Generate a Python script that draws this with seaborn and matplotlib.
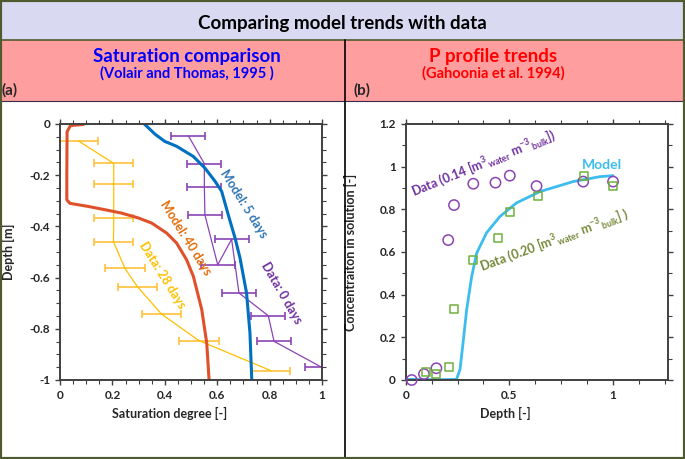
import matplotlib
matplotlib.use("Agg")
import matplotlib.pyplot as plt
import seaborn as sns
from matplotlib.patches import Rectangle
from matplotlib.lines import Line2D
from matplotlib.ticker import MultipleLocator

# -----------------------------
# Data
# -----------------------------
# (a) saturation vs depth
sat_5d = [0.322, 0.363, 0.40, 0.445, 0.509, 0.553, 0.592, 0.617, 0.642, 0.668, 0.687, 0.712, 0.725, 0.732]
dep_5d = [0.0, -0.04, -0.068, -0.087, -0.127, -0.172, -0.224, -0.263, -0.354, -0.445, -0.523, -0.66, -0.816, -1.0]

sat_40d = [0.089, 0.04, 0.027, 0.026, 0.026, 0.038, 0.108, 0.172, 0.235, 0.299, 0.35, 0.407, 0.445, 0.483, 0.509, 0.541, 0.56, 0.569]
dep_40d = [-0.002, -0.006, -0.03, -0.2, -0.296, -0.31, -0.322, -0.335, -0.348, -0.367, -0.387, -0.426, -0.465, -0.53, -0.595, -0.725, -0.855, -1.0]

sat_28d = [0.07, 0.205, 0.205, 0.205, 0.204, 0.248, 0.295, 0.388, 0.53, 0.804]
dep_28d = [-0.066, -0.154, -0.234, -0.366, -0.46, -0.564, -0.635, -0.743, -0.846, -0.963]
err_28d = 0.075

sat_0d = [0.49, 0.551, 0.551, 0.553, 0.602, 0.655, 0.683, 0.795, 0.817, 1.0]
dep_0d = [-0.046, -0.155, -0.246, -0.355, -0.55, -0.45, -0.66, -0.749, -0.849, -0.951]
err_0d = 0.065

# (b) P profile
pos_model = [0.0, 0.1, 0.2, 0.245, 0.262, 0.275, 0.294, 0.318, 0.342, 0.39, 0.454, 0.534, 0.647, 0.807, 0.936, 1.0]
conc_model = [0.003, 0.002, 0.002, 0.003, 0.05, 0.16, 0.33, 0.484, 0.594, 0.69, 0.766, 0.83, 0.883, 0.93, 0.953, 0.958]

pos_014 = [0.029, 0.088, 0.148, 0.205, 0.233, 0.326, 0.433, 0.502, 0.631, 0.856, 1.0]
conc_014 = [0.0, 0.028, 0.055, 0.656, 0.82, 0.92, 0.925, 0.958, 0.909, 0.93, 0.93]

pos_020 = [0.096, 0.148, 0.21, 0.234, 0.326, 0.446, 0.502, 0.639, 0.859, 1.0]
conc_020 = [0.039, 0.028, 0.062, 0.334, 0.5625, 0.664, 0.786, 0.864, 0.958, 0.909]

x1_ticks = [0, 0.2, 0.4, 0.6, 0.8, 1.0]
x1_labels = ["0", "0.2", "0.4", "0.6", "0.8", "1"]
y1_ticks = [0, -0.2, -0.4, -0.6, -0.8, -1.0]
y1_labels = ["0", "-0.2", "-0.4", "-0.6", "-0.8", "-1"]
x2_ticks = [0, 0.5, 1.0]
x2_labels = ["0", "0.5", "1"]
y2_ticks = [0, 0.2, 0.4, 0.6, 0.8, 1.0, 1.2]
y2_labels = ["0", "0.2", "0.4", "0.6", "0.8", "1", "1.2"]

# -----------------------------
# Style
# -----------------------------
sns.set_style("white")
plt.rcParams["font.family"] = ["Lato", "DejaVu Sans"]
plt.rcParams["font.weight"] = "bold"
plt.rcParams["axes.unicode_minus"] = False
plt.rcParams["mathtext.fontset"] = "custom"
plt.rcParams["mathtext.rm"] = "Lato:bold"
plt.rcParams["mathtext.bf"] = "Lato:bold"
plt.rcParams["mathtext.it"] = "Lato:bold"

W, H = 685, 459
fig = plt.figure(figsize=(6.85, 4.59), dpi=100)

# header bands
fig.patches.append(Rectangle((0, 1 - 40 / H), 1, 40 / H, transform=fig.transFigure,
                             facecolor="#d9daf2", edgecolor="none", zorder=0))
fig.patches.append(Rectangle((0, 1 - 101 / H), 1, 61 / H, transform=fig.transFigure,
                             facecolor="#ff9e9e", edgecolor="none", zorder=0))
fig.add_artist(Line2D([0, 1], [1 - 40 / H] * 2, color="#4f5b2e", lw=1.2))
fig.add_artist(Line2D([0, 1], [1 - 101 / H] * 2, color="#3a2a4a", lw=0.8))
fig.add_artist(Line2D([345 / W] * 2, [0, 1 - 40 / H], color="black", lw=1.2))
fig.patches.append(Rectangle((0, 0), 1, 1, transform=fig.transFigure, fill=False,
                             edgecolor="#4f5b2e", lw=3, zorder=5))

fig.text(0.5, 1 - 23 / H, "Comparing model trends with data", ha="center", va="center",
         fontsize=13.5, fontweight="bold", color="black")
fig.text(186.7 / W, 1 - 56.7 / H, "Saturation comparison", ha="center", va="center",
         fontsize=13.4, fontweight="bold", color="#0000ff")
fig.text(186.7 / W, 1 - 73.3 / H, "(Volair and Thomas, 1995 )", ha="center", va="center",
         fontsize=10.5, fontweight="bold", color="#0000ff")
fig.text(2 / W, 1 - 90 / H, "(a)", ha="left", va="center", fontsize=11, fontweight="bold")
fig.text(493 / W, 1 - 56.7 / H, "P profile trends", ha="center", va="center",
         fontsize=13.4, fontweight="bold", color="#ff0000")
fig.text(493 / W, 1 - 73.3 / H, "(Gahoonia et al. 1994)", ha="center", va="center",
         fontsize=10.5, fontweight="bold", color="#ff0000")
fig.text(354 / W, 1 - 90 / H, "(b)", ha="left", va="center", fontsize=11, fontweight="bold")

ax_bot = 1 - 380 / H
ax_h = 256 / H
ax1 = fig.add_axes([60 / W, ax_bot, 262 / W, ax_h])
ax2 = fig.add_axes([405.7 / W, ax_bot, 262.3 / W, ax_h])


def style_axes(ax):
    for s in ax.spines.values():
        s.set_color("#404040")
        s.set_linewidth(1.4)
    ax.tick_params(which="both", direction="out", top=True, right=True, left=True, bottom=True,
                   color="#404040", labelsize=8.5)
    ax.tick_params(which="major", length=3.5, width=1)
    ax.tick_params(which="minor", length=3, width=0.8)


# -----------------------------
# (a) Saturation comparison
# -----------------------------
ax1.errorbar(sat_28d, dep_28d, xerr=err_28d, fmt="none", ecolor="#ffc13a",
             elinewidth=1.2, capsize=3, capthick=1.2)
sns.lineplot(x=sat_28d, y=dep_28d, sort=False, estimator=None, color="#ffc000",
             linewidth=0.9, ax=ax1)
ax1.errorbar(sat_0d, dep_0d, xerr=err_0d, fmt="none", ecolor="#8a44b4",
             elinewidth=1.2, capsize=3, capthick=1.2)
sns.lineplot(x=sat_0d, y=dep_0d, sort=False, estimator=None, color="#8a44b4",
             linewidth=0.9, ax=ax1)
sns.lineplot(x=sat_5d, y=dep_5d, sort=False, estimator=None, color="#0070c0",
             linewidth=2.2, ax=ax1)
sns.lineplot(x=sat_40d, y=dep_40d, sort=False, estimator=None, color="#e0502a",
             linewidth=2.2, ax=ax1)

ax1.set_xlim(0, 1)
ax1.set_ylim(-1, 0)
ax1.xaxis.set_minor_locator(MultipleLocator(0.05))
ax1.yaxis.set_minor_locator(MultipleLocator(0.05))
ax1.set_xticks(x1_ticks, x1_labels, fontweight="bold")
ax1.set_yticks(y1_ticks, y1_labels, fontweight="bold")
ax1.set_xlabel("Saturation degree [-]", fontsize=9, fontweight="bold")
ax1.set_ylabel("Depth [m]", fontsize=9, fontweight="bold")
ax1.xaxis.set_label_coords(0.42, -0.105)
ax1.yaxis.set_label_coords(-0.17, 0.5)
style_axes(ax1)

ax1.text(0.70, -0.31, "Model: 5 days", rotation=-58, ha="center", va="center",
         fontsize=9, fontweight="bold", color="#2e75b6")
ax1.text(0.48, -0.445, "Model: 40 days", rotation=-58, ha="center", va="center",
         fontsize=9, fontweight="bold", color="#e46c0a")
ax1.text(0.39, -0.59, "Data: 28 days", rotation=-58, ha="center", va="center",
         fontsize=9, fontweight="bold", color="#ffc000")
ax1.text(0.846, -0.661, "Data: 0 days", rotation=-60, ha="center", va="center",
         fontsize=9, fontweight="bold", color="#7030a0")

# -----------------------------
# (b) P profile trends
# -----------------------------
sns.lineplot(x=pos_model, y=conc_model, sort=False, estimator=None, color="#3dbdee",
             linewidth=2, ax=ax2)
sns.scatterplot(x=pos_014, y=conc_014, marker="o", s=55, facecolor="none",
                edgecolor="#8a44b4", linewidth=1.1, ax=ax2, clip_on=False, zorder=4)
sns.scatterplot(x=pos_020, y=conc_020, marker="s", s=32, facecolor="none",
                edgecolor="#6fb03c", linewidth=1.1, ax=ax2, clip_on=False, zorder=4)

ax2.set_xlim(0, 1.265)
ax2.set_ylim(0, 1.2)
ax2.xaxis.set_minor_locator(MultipleLocator(0.125))
ax2.yaxis.set_minor_locator(MultipleLocator(0.1))
ax2.set_xticks(x2_ticks, x2_labels, fontweight="bold")
ax2.set_yticks(y2_ticks, y2_labels, fontweight="bold")
ax2.set_xlabel("Depth [-]", fontsize=9, fontweight="bold")
ax2.set_ylabel("Concentraiton in solution [-]", fontsize=9, fontweight="bold")
ax2.xaxis.set_label_coords(0.38, -0.105)
ax2.yaxis.set_label_coords(-0.185, 0.5)
style_axes(ax2)

ax2.text(0.945, 1.01, "Model", ha="center", va="center", fontsize=10,
         fontweight="bold", color="#3dbdee")
ax2.text(0.376, 1.015, r"Data (0.14 [m$^{3}{}_{water}$ m$^{-3}{}_{bulk}$])", rotation=22,
         ha="center", va="center", fontsize=9, fontweight="bold", color="#7030a0")
ax2.text(0.716, 0.656, r"Data (0.20 [m$^{3}{}_{water}$ m$^{-3}{}_{bulk}$] )", rotation=20,
         ha="center", va="center", fontsize=9, fontweight="bold", color="#76883a")

fig.savefig("out.png", dpi=100)
plt.close(fig)
print("Saved -> out.png")
